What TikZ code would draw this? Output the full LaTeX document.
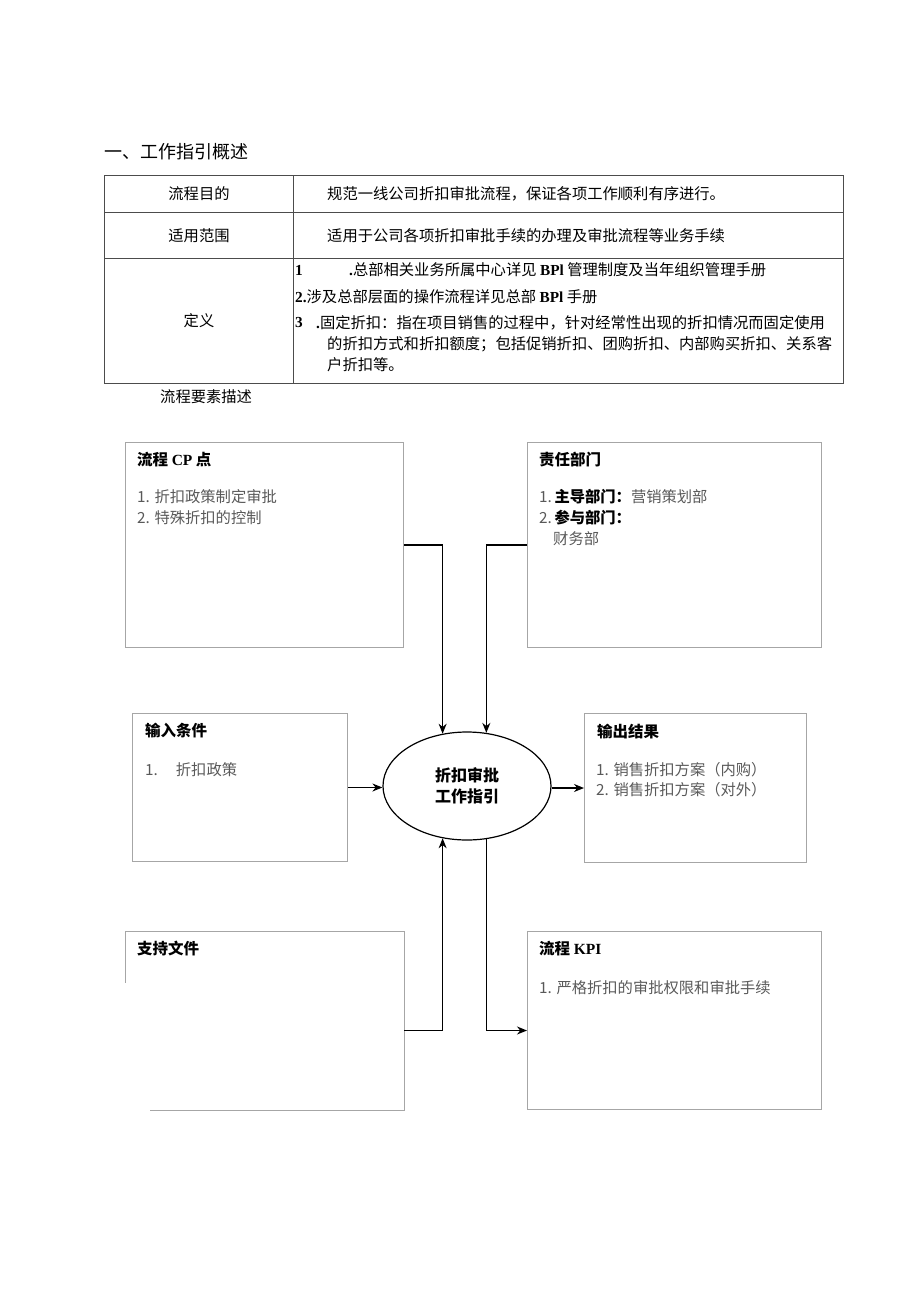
\documentclass[tikz,border=0pt]{standalone}
\usepackage{fontspec}
\setmainfont{Liberation Serif}
\newfontfamily\cjk{Noto Sans CJK SC}
\newcommand{\lat}[1]{{\rmfamily\bfseries #1}}
\usetikzlibrary{shapes.geometric,arrows.meta}
\begin{document}
\begin{tikzpicture}[x=1pt,y=-1pt,font=\cjk\fontsize{15.3}{18}\selectfont,
  box/.style={draw=gray!70,line width=1pt,anchor=north west,inner sep=0pt},
  ttl/.style={anchor=west,inner sep=0pt,font=\cjk\bfseries\fontsize{15.5}{18}\selectfont},
  itm/.style={anchor=west,inner sep=0pt,text=black!65},
  tbl/.style={draw=black!70,line width=.9pt},
  arr/.style={-{Stealth[length=10pt,width=8pt]},line width=1.4pt}]
\useasboundingbox (0,0) rectangle (920,1301);
\node[anchor=west,inner sep=0pt,font=\cjk\fontsize{18}{20}\selectfont] (head) at (104,152) {一、工作指引概述};
% table
\draw[tbl] (104,175) rectangle (843,383);
\foreach \y in {212,258}{\draw[tbl] (104,\y)--(843,\y);}
\draw[tbl] (293,175)--(293,383);
\foreach \y/\t in {194/流程目的,236/适用范围,321/定义}{\node (k\y) at (199,\y) {\t};}
\node[anchor=west,inner sep=0pt] (v1) at (327,194) {规范一线公司折扣审批流程，保证各项工作顺利有序进行。};
\node[anchor=west,inner sep=0pt] (v2) at (327,236) {适用于公司各项折扣审批手续的办理及审批流程等业务手续};
\node[anchor=west,inner sep=0pt] (d1a) at (295,270) {\lat{1}};
\node[anchor=west,inner sep=0pt] (d1) at (349,270) {\lat{.}总部相关业务所属中心详见 \lat{BPl} 管理制度及当年组织管理手册};
\node[anchor=west,inner sep=0pt] (d2) at (295,297) {\lat{2.}涉及总部层面的操作流程详见总部 \lat{BPl} 手册};
\node[anchor=west,inner sep=0pt] (d3a) at (295,323) {\lat{3}};
\node[anchor=west,inner sep=0pt] (d3) at (316,323) {\lat{.}固定折扣：指在项目销售的过程中，针对经常性出现的折扣情况而固定使用};
\node[anchor=west,inner sep=0pt] (d4) at (327,344) {的折扣方式和折扣额度；包括促销折扣、团购折扣、内部购买折扣、关系客};
\node[anchor=west,inner sep=0pt] (d5) at (327,365) {户折扣等。};
\node[anchor=west,inner sep=0pt] (sub) at (160,397) {流程要素描述};
% boxes
\node[box,minimum width=278pt,minimum height=205pt] (cp) at (125,442) {};
\node[box,minimum width=294pt,minimum height=205pt] (dep) at (527,442) {};
\node[box,minimum width=215pt,minimum height=148pt] (inp) at (132,713) {};
\node[box,minimum width=222pt,minimum height=149pt] (out) at (584,713) {};
\node[box,draw=none,minimum width=278pt,minimum height=178pt] (sup) at (125,931) {};
\draw[gray!70,line width=1pt] ([xshift=25pt]sup.south west) -| (sup.north east) -| ([yshift=-52pt]sup.north west);
\node[box,minimum width=294pt,minimum height=178pt] (kpi) at (527,931) {};
\node[ellipse,draw,line width=1.2pt,minimum width=168pt,minimum height=108pt,inner sep=0pt,align=center,
  font=\cjk\bfseries\fontsize{16}{21}\selectfont] (ell) at (467,786) {折扣审批\\工作指引};
% box texts
\node[ttl] (cpt) at ([shift={(12,18)}]cp.north west) {流程 \lat{CP} 点};
\foreach \t [count=\i] in {1. 折扣政策制定审批,2. 特殊折扣的控制}{\node[itm] at ([shift={(12,34+21*\i)}]cp.north west) {\t};}
\node[ttl] (dept) at ([shift={(12,18)}]dep.north west) {责任部门};
\node[itm] (dep1) at ([shift={(12,55)}]dep.north west) {1.\,\textcolor{black}{\bfseries 主导部门：}营销策划部};
\node[itm] (dep2) at ([shift={(12,76)}]dep.north west) {2.\,\textcolor{black}{\bfseries 参与部门：}};
\node[itm] (dep3) at ([shift={(26,97)}]dep.north west) {财务部};
\node[ttl] (inpt) at ([shift={(13,18)}]inp.north west) {输入条件};
\node[itm] (inp1) at ([shift={(13,57)}]inp.north west) {1.\hspace{18pt}折扣政策};
\node[ttl] (outt) at ([shift={(13,19)}]out.north west) {输出结果};
\foreach \t [count=\i] in {1. 销售折扣方案（内购）,2. 销售折扣方案（对外）}{\node[itm] at ([shift={(12,37+20*\i)}]out.north west) {\t};}
\node[ttl] (supt) at ([shift={(12,18)}]sup.north west) {支持文件};
\node[ttl] (kpit) at ([shift={(12,18)}]kpi.north west) {流程 \lat{KPI}};
\node[itm] (kpi1) at ([shift={(12,57)}]kpi.north west) {1. 严格折扣的审批权限和审批手续};
% connectors
\draw[arr] (cp.east) -| (ell.115);
\draw[arr] (dep.west) -| (ell.70);
\draw[arr] (inp.east) -- (inp.east -| ell.west);
\draw[arr] (ell.east |- out.west) -- (out.west);
\draw[arr] ([yshift=-10pt]sup.east) -| (ell.245);
\draw[arr] (ell.290) |- ([yshift=-10pt]kpi.west);
\end{tikzpicture}
\end{document}
